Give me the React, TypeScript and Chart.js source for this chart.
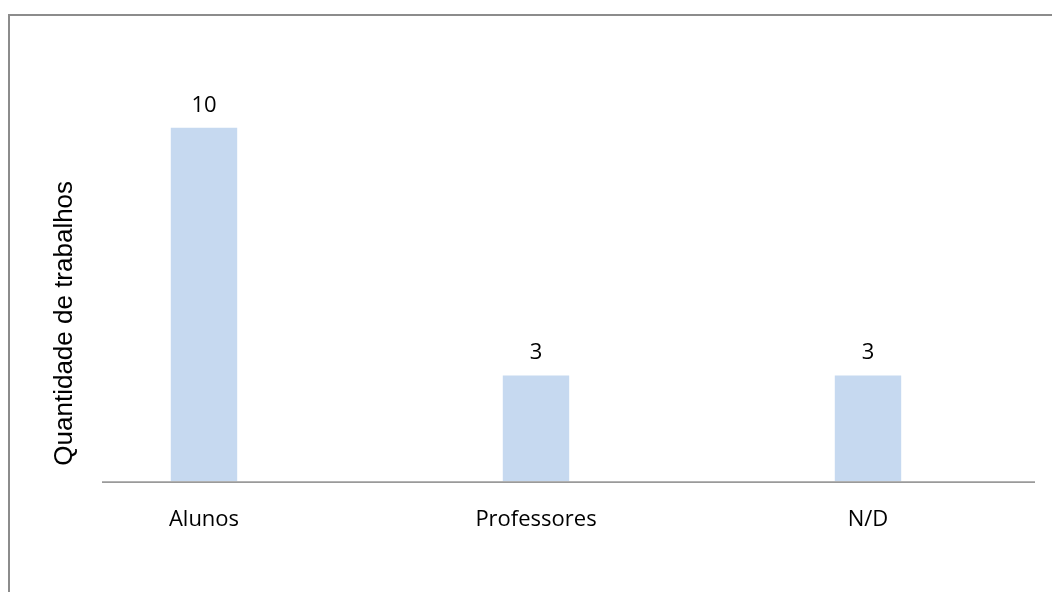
import React, { useEffect, useRef } from "react";
import { Chart, registerables } from "chart.js";

Chart.register(...registerables);

// Data
const categories = ["Alunos", "Professores", "N/D"];
const workCounts = [10, 3, 3];
const yAxisTitle = "Quantidade de trabalhos";
const yScaleMax = 12;

const LABEL_FONT = "'Open Sans', 'DejaVu Sans', sans-serif";
const TITLE_FONT = "'Liberation Sans', Arial, sans-serif";

// Outer frame, baseline rule, value labels and rotated axis title
const decorations = {
  id: "decorations",
  beforeDraw(chart: any) {
    const { ctx } = chart;
    ctx.save();
    ctx.fillStyle = "#ffffff";
    ctx.fillRect(0, 0, chart.width, chart.height);
    ctx.strokeStyle = "#8c8c8c";
    ctx.lineWidth = 2;
    ctx.strokeRect(9, 15, chart.width + 40, chart.height + 40);
    ctx.restore();
  },
  afterDatasetsDraw(chart: any) {
    const { ctx, chartArea } = chart;
    const yScale = chart.scales.y;
    const zeroY = yScale.getPixelForValue(0);
    ctx.save();
    // baseline rule
    ctx.strokeStyle = "#9a9a9a";
    ctx.lineWidth = 1.6;
    ctx.beginPath();
    ctx.moveTo(102, zeroY + 0.5);
    ctx.lineTo(chartArea.right + 1, zeroY + 0.5);
    ctx.stroke();

    // value labels
    const meta = chart.getDatasetMeta(0);
    ctx.fillStyle = "#000000";
    ctx.font = `22px ${LABEL_FONT}`;
    ctx.textAlign = "center";
    ctx.textBaseline = "alphabetic";
    meta.data.forEach((bar: any, i: number) => {
      ctx.fillText(String(workCounts[i]), bar.x, bar.y - 16);
    });

    // vertical axis title
    ctx.translate(72, (chartArea.top + zeroY) / 2 + 54);
    ctx.rotate(-Math.PI / 2);
    ctx.font = `26px ${TITLE_FONT}`;
    ctx.textAlign = "center";
    ctx.fillText(yAxisTitle, 0, 0);
    ctx.restore();
  },
};

export default function App() {
  const canvasRef = useRef<HTMLCanvasElement | null>(null);

  useEffect(() => {
    if (!canvasRef.current) return;
    const chart = new Chart(canvasRef.current, {
      type: "bar",
      data: {
        labels: categories,
        datasets: [
          {
            data: workCounts,
            backgroundColor: "#c6d9f0",
            borderWidth: 0,
            categoryPercentage: 1,
            barPercentage: 0.2,
          },
        ],
      },
      options: {
        animation: false,
        responsive: false,
        devicePixelRatio: 1,
        layout: { padding: { left: 38, right: 18, top: 57, bottom: 42 } },
        plugins: {
          legend: { display: false },
          tooltip: { enabled: false },
        },
        scales: {
          x: {
            grid: { display: false },
            border: { display: false },
            ticks: {
              color: "#000000",
              padding: 17,
              font: { family: LABEL_FONT, size: 22 },
            },
          },
          y: {
            display: false,
            min: 0,
            max: yScaleMax,
          },
        },
      },
      plugins: [decorations],
    });
    return () => chart.destroy();
  }, []);

  return (
    <div style={{ position: "absolute", left: 0, top: 0, width: 1052, height: 592, background: "#fff" }}>
      <canvas ref={canvasRef} width={1052} height={592} />
    </div>
  );
}
